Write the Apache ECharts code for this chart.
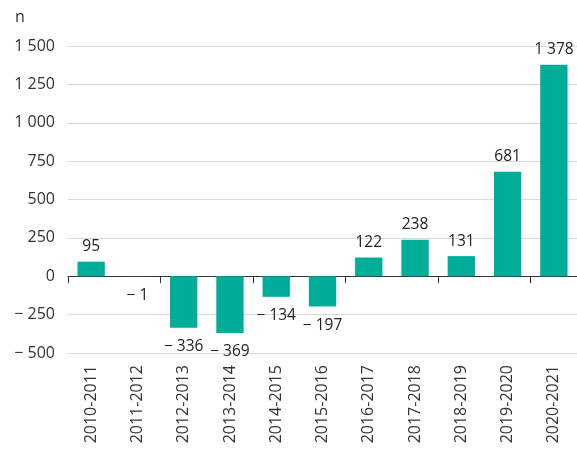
<!DOCTYPE html>
<html>
<head>
<meta charset="utf-8">
<script src="https://cdn.jsdelivr.net/npm/echarts@6/dist/echarts.min.js"></script>
<style>
  html, body { margin: 0; padding: 0; background: #fff; }
  #chart { width: 577px; height: 454px; }
</style>
</head>
<body>
<div id="chart"></div>
<script>
// Yearly change, n
const categories = ['2010-2011', '2011-2012', '2012-2013', '2013-2014', '2014-2015', '2015-2016',
  '2016-2017', '2017-2018', '2018-2019', '2019-2020', '2020-2021'];
const values = [95, -1, -336, -369, -134, -197, 122, 238, 131, 681, 1378];
const yTicks = { min: -500, max: 1500, interval: 250 };

const FONT = '"Open Sans", "Noto Sans", sans-serif';
const TEAL = '#00ad98';

// Space-grouped thousands, minus sign followed by a space
function fmt(v) {
  const abs = Math.abs(v);
  const s = String(abs).replace(/\B(?=(\d{3})+(?!\d))/g, ' ');
  return v < 0 ? '\u2212 ' + s : s;
}

// Labels sit a bit further off the bar end for negative values
const barData = values.map(v => ({ value: v, label: { distance: v < 0 ? 11 : 7 } }));

const chart = echarts.init(document.getElementById('chart'), null, { renderer: 'canvas' });
chart.setOption({
  animation: false,
  backgroundColor: '#ffffff',
  title: {
    text: 'n', left: 10, top: 4,
    textStyle: { fontFamily: FONT, fontSize: 16, fontWeight: 'normal', color: '#333' }
  },
  grid: { left: 68, right: 0, top: 46, bottom: 101, containLabel: false },
  xAxis: [
    {
      // zero line with category ticks
      type: 'category', data: categories,
      axisLine: { onZero: true, lineStyle: { color: '#333', width: 1 } },
      axisTick: { show: true, length: 7, lineStyle: { color: '#333' } },
      axisLabel: { show: false }
    },
    {
      // category labels along the bottom
      type: 'category', data: categories, position: 'bottom',
      axisLine: { show: false, onZero: false }, axisTick: { show: false },
      axisLabel: { rotate: 90, margin: 12, fontFamily: FONT, fontSize: 16, color: '#333', interval: 0 }
    }
  ],
  yAxis: {
    type: 'value', min: yTicks.min, max: yTicks.max, interval: yTicks.interval,
    axisLine: { show: false }, axisTick: { show: false },
    splitLine: { lineStyle: { color: '#d9d9d9', width: 1 } },
    axisLabel: { margin: 13, fontFamily: FONT, fontSize: 16, color: '#333', formatter: fmt }
  },
  series: [{
    type: 'bar', data: barData, xAxisIndex: 0, barWidth: '59%',
    itemStyle: { color: TEAL },
    label: {
      show: true, position: 'outside',
      fontFamily: FONT, fontSize: 15.5, color: '#222',
      formatter: p => fmt(p.value)
    }
  }]
});
</script>
</body>
</html>
